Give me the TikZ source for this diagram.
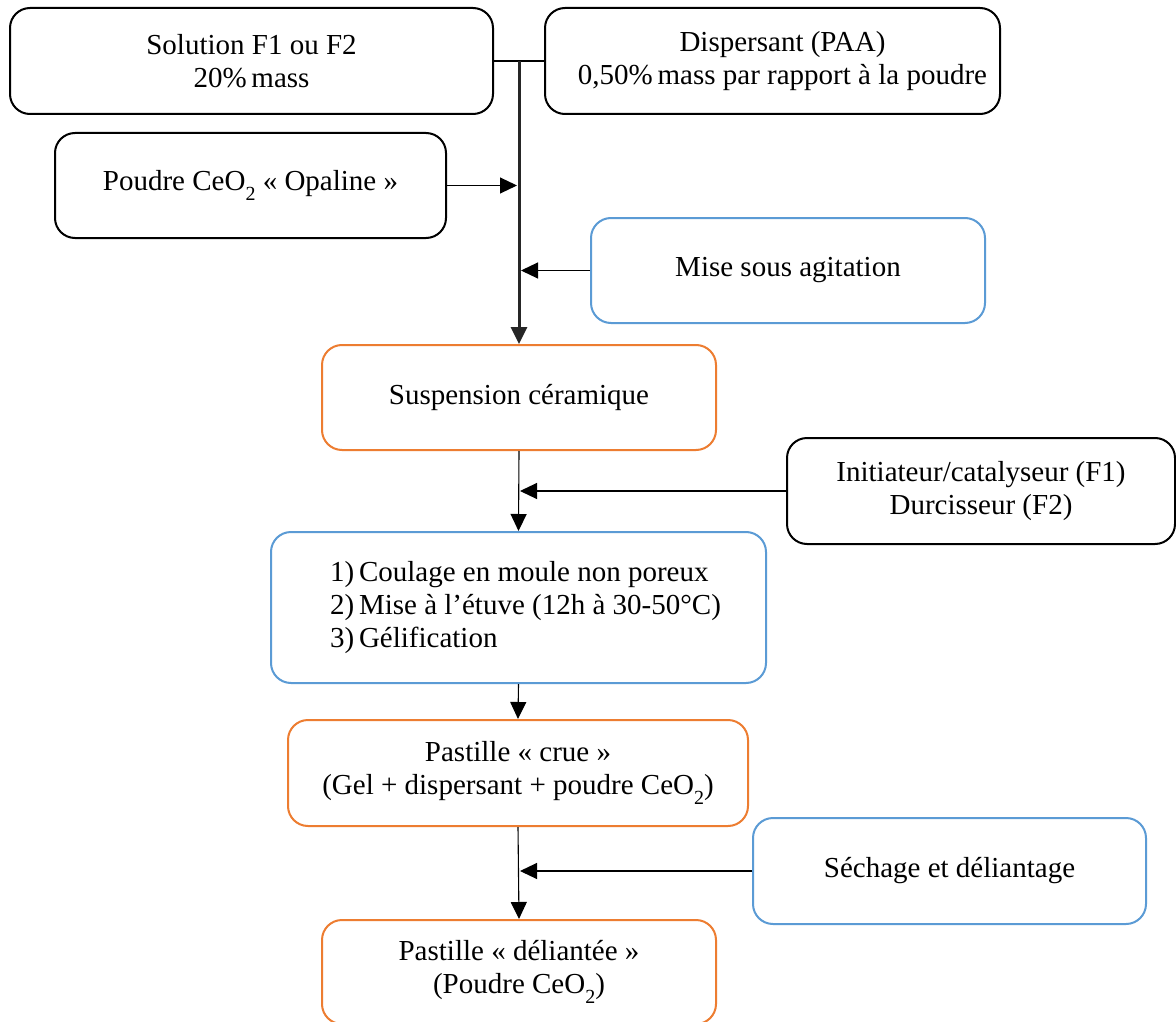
\documentclass[tikz,border=0pt]{standalone}
\usepackage{fontspec}
\setmainfont{Liberation Serif}
\usetikzlibrary{arrows.meta}
\definecolor{myblue}{HTML}{5B9BD5}
\definecolor{myorange}{HTML}{ED7D31}
\newcommand{\subtwo}{\raisebox{-10pt}{\fontsize{20}{20}\selectfont 2}}
\begin{document}
\begin{tikzpicture}[x=1pt,y=-1pt,
  box/.style={draw, line width=2pt, rounded corners=20pt, align=center, inner sep=0pt,
    font=\fontsize{29}{33}\selectfont},
  blackbox/.style={box, draw=black},
  bluebox/.style={box, draw=myblue},
  orangebox/.style={box, draw=myorange},
  conn/.style={line width=1.1pt},
  arr/.style={conn, -{Triangle[length=17pt,width=16pt]}},
  mainline/.style={line width=3pt, draw=black!85, -{Triangle[length=17pt,width=16pt]}}
]
\clip (0,0) rectangle (1176,1022);
\useasboundingbox (0,0) rectangle (1176,1022);
\fill[white] (0,0) rectangle (1176,1022);

\node[blackbox, minimum width=483pt, minimum height=106pt] (sol) at (251.5,61) {Solution F1 ou F2\\20\%\,mass};
\node[blackbox, minimum width=455pt, minimum height=106pt] (disp) at (772.5,61) {\hspace*{20pt}Dispersant (PAA)\\\hspace*{20pt}0,50\%\,mass par rapport à la poudre};
\node[blackbox, minimum width=391pt, minimum height=105pt] (poudre) at (250.5,185.5) {Poudre CeO\subtwo{} « Opaline »};
\node[bluebox, minimum width=394pt, minimum height=105pt] (mise) at (788,270.5) {Mise sous agitation};
\node[orangebox, minimum width=394pt, minimum height=105pt] (susp) at (519,397.5) {Suspension céramique};
\node[blackbox, minimum width=388pt, minimum height=106pt] (init) at (981,491) {Initiateur/catalyseur (F1)\\Durcisseur (F2)};
\node[bluebox, minimum width=495pt, minimum height=151pt, align=left] (coul) at (518.5,607.5)
  {\hspace*{14pt}1)\,Coulage en moule non poreux\\\hspace*{14pt}2)\,Mise à l’étuve (12h à 30-50°C)\\\hspace*{14pt}3)\,Gélification};
\node[orangebox, minimum width=460pt, minimum height=106pt] (crue) at (518,773) {Pastille « crue »\\(Gel + dispersant + poudre CeO\subtwo)};
\node[bluebox, minimum width=393pt, minimum height=106pt] (sech) at (949.5,871) {Séchage et déliantage};
\node[orangebox, minimum width=394pt, minimum height=104pt] (del) at (519,972) {Pastille « déliantée »\\(Poudre CeO\subtwo)};

\coordinate (j) at (519,61);
\draw[conn] (sol.east) -- (disp.west);
\draw[mainline] (j) -- (susp.north);
\draw[arr] (poudre.east) -- ([xshift=-2pt]poudre.east -| j);
\draw[arr] (mise.west) -- ([xshift=2pt]mise.west -| j);
\draw[arr] (init.west) -- ([xshift=1pt]init.west -| j);
\draw[arr] (susp.south) -- (coul.north);
\draw[arr] (coul.south) -- (crue.north);
\draw[arr] (sech.west) -- ([xshift=1pt]sech.west -| j);
\draw[arr] (crue.south) -- (del.north);
\end{tikzpicture}
\end{document}
